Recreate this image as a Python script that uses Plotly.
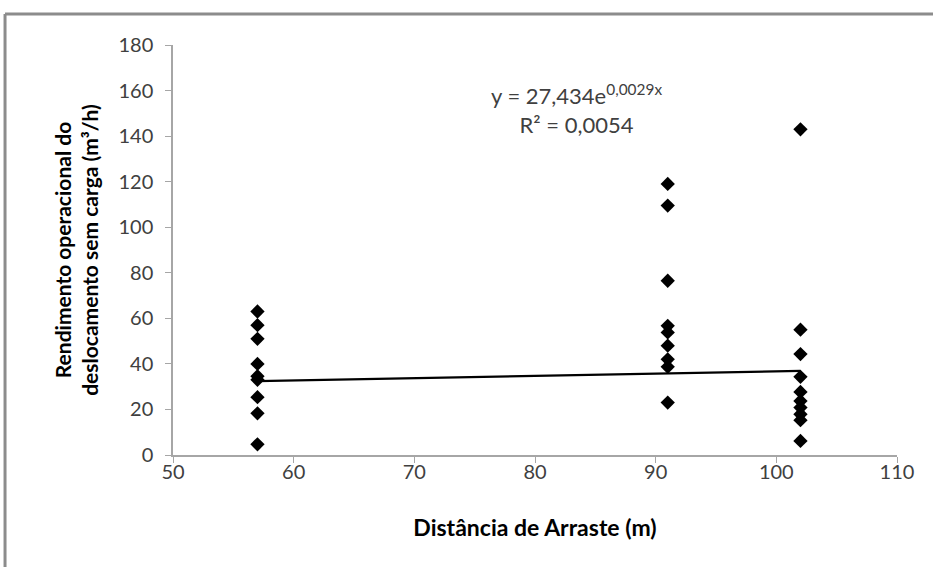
import plotly.graph_objects as go

# distance (m) and operational yield (m3/h)
dist_57 = [57] * 9
yield_57 = [63, 57, 51, 40, 34.6, 33, 25.4, 18.3, 4.7]
dist_91 = [91] * 9
yield_91 = [119, 109.5, 76.5, 56.7, 53.8, 48, 42, 38.7, 23]
dist_102 = [102] * 10
yield_102 = [143, 55, 44.3, 34.3, 27.7, 23.7, 20.8, 17.9, 15.3, 6.2]

# exponential trendline end points (Excel)
trend_x = [57, 102]
trend_y = [32.4, 36.9]

x_vals = dist_57 + dist_91 + dist_102
y_vals = yield_57 + yield_91 + yield_102

fig = go.Figure()
fig.add_trace(go.Scatter(x=trend_x, y=trend_y, mode='lines',
                         line={'color': 'black', 'width': 2.2},
                         showlegend=False, hoverinfo='none'))
fig.add_trace(go.Scatter(x=x_vals, y=y_vals, mode='markers',
                         marker={'symbol': 'diamond', 'size': 11, 'color': 'black'},
                         showlegend=False))

axis_font = {'family': 'Lato', 'size': 20, 'color': '#404040'}
fig.update_xaxes(range=[50, 110], dtick=10, tick0=50,
                 showline=True, linecolor='#a6a6a6', linewidth=1.5,
                 ticks='outside', ticklen=6, tickcolor='#a6a6a6',
                 ticklabelstandoff=-8,
                 showgrid=False, zeroline=False, tickfont=axis_font,
                 title_text='<b>Distância de Arraste (m)</b>',
                 title_font={'family': 'Lato', 'size': 23, 'color': 'black'},
                 title_standoff=38)
fig.update_yaxes(range=[0, 180], dtick=20,
                 showline=True, linecolor='#a6a6a6', linewidth=1.5,
                 ticks='outside', ticklen=6, tickcolor='#a6a6a6',
                 ticklabelstandoff=8,
                 showgrid=False, zeroline=False, tickfont=axis_font,
                 title_text='<b>Rendimento operacional do<br>deslocamento sem carga (m³/h)</b>',
                 title_font={'family': 'Lato', 'size': 21, 'color': 'black'},
                 title_standoff=14)

fig.add_annotation(x=0.557, y=0.92, xref='paper', yref='paper', showarrow=False,
                   text='y = 27,434e<sup>0,0029x</sup><br>R² = 0,0054',
                   font={'family': 'Lato', 'size': 22, 'color': '#404040'})

# outer chart frame (top and left edges visible)
fig.add_shape(type='line', xref='paper', yref='paper',
              x0=-0.232, x1=1.2, y0=1.0756, y1=1.0756,
              line={'color': '#8c8c8c', 'width': 3})
fig.add_shape(type='line', xref='paper', yref='paper',
              x0=-0.232, x1=-0.232, y0=-0.4, y1=1.0756,
              line={'color': '#8c8c8c', 'width': 3})

fig.update_layout(width=933, height=567,
                  margin={'l': 173, 'r': 36, 't': 45, 'b': 112},
                  plot_bgcolor='white', paper_bgcolor='white')

fig.write_html("out.html", config={'displayModeBar': False},
               post_script="document.body.style.margin='0';")
